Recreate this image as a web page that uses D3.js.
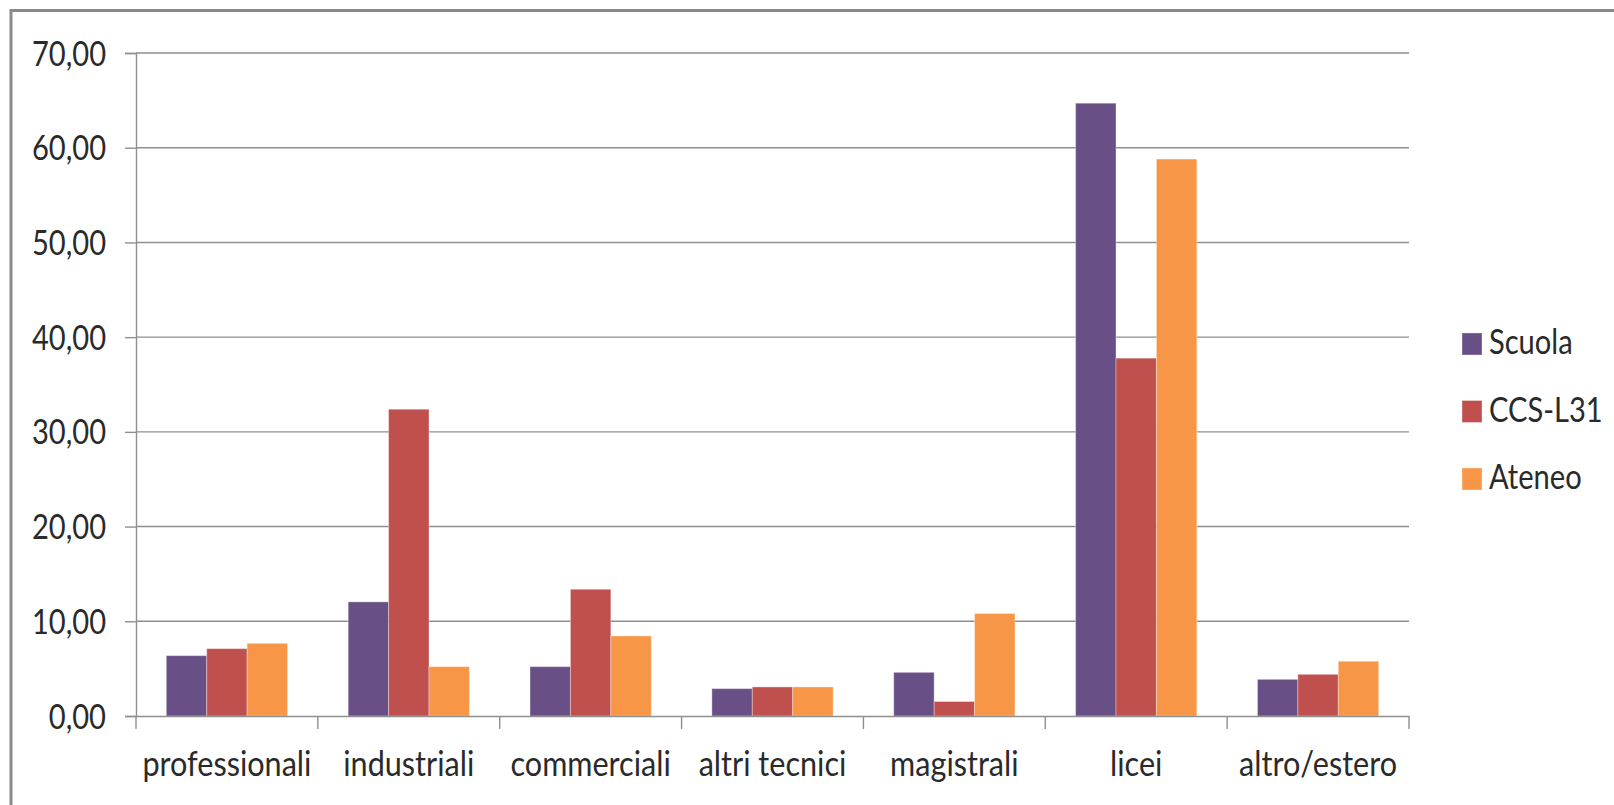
<!DOCTYPE html>
<html>
<head>
<meta charset="utf-8">
<script src="https://cdn.jsdelivr.net/npm/d3@7"></script>
<style>
  html, body { margin: 0; padding: 0; background: #fff; }
  svg { display: block; }
  text { font-family: Lato, "Open Sans", sans-serif; fill: #2a2a2a; }
</style>
</head>
<body>
<svg id="chart" width="1614" height="805"></svg>
<script>
// Provenienza scolastica degli iscritti (%)
const categories = ["professionali", "industriali", "commerciali", "altri tecnici", "magistrali", "licei", "altro/estero"];
const seriesNames = ["Scuola", "CCS-L31", "Ateneo"];
const scuola = [6.37, 12.05, 5.21, 2.89, 4.61, 64.7, 3.87];
const ccsL31 = [7.11, 32.39, 13.38, 3.07, 1.53, 37.78, 4.40];
const ateneo = [7.67, 5.21, 8.45, 3.07, 10.82, 58.8, 5.78];
const yTicks = [0, 10, 20, 30, 40, 50, 60, 70];
const colors = ["#684f86", "#c0504d", "#f79646"];

const seriesValues = [scuola, ccsL31, ateneo];
const rows = categories.map((c, i) => ({
  category: c,
  values: seriesNames.map((s, k) => ({ series: s, value: seriesValues[k][i] }))
}));

const svg = d3.select("#chart");
const textScale = "scale(0.97,1.15)";

// Frame around the chart
svg.append("path")
  .attr("d", "M11,805 V10.5 H1614")
  .attr("fill", "none")
  .attr("stroke", "#8a8a8a")
  .attr("stroke-width", 3);

const plot = { left: 136, right: 1409, top: 53, bottom: 716 };

const x = d3.scaleBand()
  .domain(categories)
  .range([plot.left, plot.right])
  .paddingInner(0)
  .paddingOuter(0);

const xInner = d3.scaleBand()
  .domain(seriesNames)
  .range([0, x.bandwidth()])
  .paddingInner(0)
  .paddingOuter(0.75);

const y = d3.scaleLinear()
  .domain([0, 70])
  .range([plot.bottom, plot.top]);

const color = d3.scaleOrdinal(seriesNames, colors);

// Horizontal gridlines
svg.append("g")
  .selectAll("line")
  .data(yTicks.filter(t => t > 0))
  .join("line")
  .attr("x1", plot.left)
  .attr("x2", plot.right)
  .attr("y1", d => y(d))
  .attr("y2", d => y(d))
  .attr("stroke", "#8f8f8f")
  .attr("stroke-width", 1.4);

// Bars
svg.append("g")
  .selectAll("g")
  .data(rows)
  .join("g")
  .attr("transform", d => `translate(${x(d.category)},0)`)
  .selectAll("rect")
  .data(d => d.values)
  .join("rect")
  .attr("x", d => xInner(d.series))
  .attr("width", xInner.bandwidth())
  .attr("y", d => y(d.value))
  .attr("height", d => y(0) - y(d.value))
  .attr("fill", d => color(d.series))
  .attr("stroke", "rgba(255,255,255,0.35)")
  .attr("stroke-width", 1);

// Y axis
const yAxis = svg.append("g")
  .attr("transform", `translate(${plot.left},0)`)
  .call(d3.axisLeft(y)
    .tickValues(yTicks)
    .tickSize(11)
    .tickFormat(d => d.toFixed(2).replace(".", ",")));
yAxis.select(".domain").attr("stroke", "#8f8f8f").attr("stroke-width", 1.4);
yAxis.selectAll(".tick line").attr("stroke", "#8f8f8f").attr("stroke-width", 1.4);
yAxis.selectAll(".tick text")
  .attr("x", 0).attr("dy", null).attr("y", 0)
  .attr("font-size", 30)
  .attr("text-anchor", "end")
  .attr("transform", `translate(-30,12) ${textScale}`);

// X axis: labels at category centres, ticks at category boundaries
const xAxis = svg.append("g")
  .attr("transform", `translate(0,${plot.bottom})`)
  .call(d3.axisBottom(x).tickSize(0).tickSizeOuter(0));
xAxis.select(".domain").attr("stroke", "#8f8f8f").attr("stroke-width", 1.4);
xAxis.selectAll(".tick text")
  .attr("y", 0).attr("dy", null)
  .attr("font-size", 30)
  .attr("transform", "translate(0,60) scale(1.02,1.15)");

const boundaries = categories.map(c => x(c)).concat([x(categories[categories.length - 1]) + x.bandwidth()]);
xAxis.append("g")
  .selectAll("line")
  .data(boundaries)
  .join("line")
  .attr("x1", d => d).attr("x2", d => d)
  .attr("y1", 0).attr("y2", 13)
  .attr("stroke", "#8f8f8f")
  .attr("stroke-width", 1.4);

// Legend
const legendY = d3.scalePoint().domain(seriesNames).range([344, 479]);
const legend = svg.append("g")
  .selectAll("g")
  .data(seriesNames)
  .join("g")
  .attr("transform", d => `translate(1462,${legendY(d)})`);
legend.append("rect")
  .attr("x", 0).attr("y", -11)
  .attr("width", 20).attr("height", 22)
  .attr("fill", d => color(d))
  .attr("stroke", "rgba(255,255,255,0.35)");
legend.append("text")
  .attr("font-size", 30)
  .attr("transform", `translate(27,10) ${textScale}`)
  .text(d => d);
</script>
</body>
</html>
